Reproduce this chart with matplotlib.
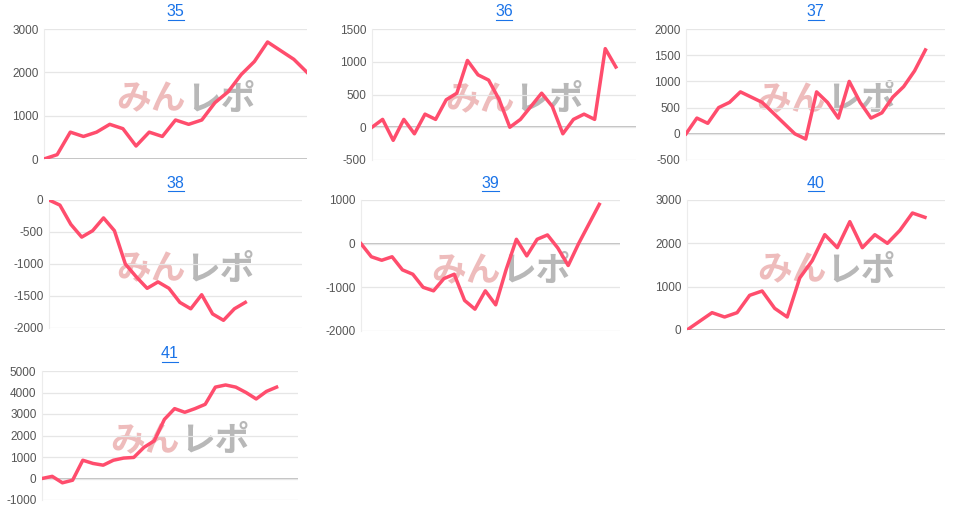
import matplotlib.pyplot as plt

plt.rcParams['font.family'] = ['Liberation Sans', 'Noto Sans CJK JP', 'DejaVu Sans']
plt.rcParams['axes.unicode_minus'] = False

LINE_COLOR = "#ff4d6d"

# ----- dados -----
titles = ["35", "36", "37", "38", "39", "40", "41"]

s35 = [0, 100, 620, 520, 620, 800, 700, 300, 620, 520, 900, 800, 900, 1300,
       1550, 1950, 2250, 2700, 2500, 2300, 2000]
s36 = [0, 120, -200, 120, -100, 200, 120, 420, 520, 1020, 800, 720, 420, 0,
       120, 320, 520, 320, -100, 120, 200, 120, 1200, 920]
s37 = [0, 300, 200, 500, 600, 800, 700, 600, 400, 200, 0, -100, 800, 600, 300,
       1000, 600, 300, 400, 700, 900, 1200, 1600]
s38 = [0, -80, -380, -580, -480, -280, -480, -1000, -1200, -1380, -1280, -1380,
       -1600, -1700, -1480, -1780, -1880, -1700, -1600]
s39 = [0, -300, -380, -300, -600, -700, -1000, -1080, -800, -700, -1300, -1500,
       -1080, -1400, -600, 100, -280, 100, 200, -100, -500, 0, 450, 900]
s40 = [0, 200, 400, 300, 400, 800, 900, 500, 300, 1200, 1600, 2200, 1900, 2500,
       1900, 2200, 2000, 2300, 2700, 2600]
s41 = [0, 100, -200, -80, 850, 700, 620, 850, 950, 980, 1450, 1750, 2750, 3250,
       3080, 3250, 3450, 4250, 4350, 4250, 4000, 3700, 4050, 4250]

series = [s35, s36, s37, s38, s39, s40, s41]
x_max = [20, 24.9, 23.8, 23.2, 25, 20.6, 25.1]
y_lims = [(0, 3000), (-500, 1500), (-500, 2000), (-2000, 0),
          (-2000, 1000), (0, 3000), (-1000, 5000)]
y_steps = [1000, 500, 500, 500, 1000, 1000, 1000]

# posição dos eixos em pixels: (esquerda, direita, topo, base)
boxes = [(44, 307, 29, 159), (372, 636, 29, 160), (686, 945, 29, 160),
         (49, 302, 200, 328), (361, 620, 200, 331), (687, 945, 200, 330),
         (42, 298, 371, 500)]

W, H = 960, 508
fig = plt.figure(figsize=(W / 100, H / 100), dpi=100)

for title, data, xm, (y0, y1), step, (l, r, t, b) in zip(
        titles, series, x_max, y_lims, y_steps, boxes):
    ax = fig.add_axes([l / W, 1 - b / H, (r - l) / W, (b - t) / H])
    ax.set_xlim(0, xm)
    ax.set_ylim(y0, y1)
    ax.set_yticks(range(y0, y1 + 1, step))
    ax.set_xticks([])
    ax.tick_params(axis="y", length=0, labelsize=8.5, labelcolor="#555555", pad=4)
    ax.grid(True, axis="y", color="#e6e6e6", linewidth=0.9)
    for side in ["top", "right", "bottom"]:
        ax.spines[side].set_visible(False)
    ax.spines["left"].set_color("#ececec")
    ax.axhline(0, color="#b0b0b0", linewidth=1.1, zorder=1)

    # marca d'água
    ax.text(0.54, 0.46, "みん", transform=ax.transAxes, ha="right", va="center",
            fontsize=25, fontweight="bold", color="#e8a0a0", alpha=0.7, zorder=0,
            family="Noto Sans CJK JP")
    ax.text(0.54, 0.46, "レポ", transform=ax.transAxes, ha="left", va="center",
            fontsize=25, fontweight="bold", color="#9a9a9a", alpha=0.7, zorder=0,
            family="Noto Sans CJK JP")

    ax.plot(range(len(data)), data, color=LINE_COLOR, linewidth=2.5, zorder=3,
            solid_joinstyle="round")

    fig.text((l + r) / 2 / W, 1 - (t - 17) / H, title, ha="center", va="center",
             fontsize=11.5, color="#1a73e8")
    fig.add_artist(plt.Line2D([((l + r) / 2 - 8) / W, ((l + r) / 2 + 8) / W],
                              [1 - (t - 9) / H] * 2, color="#1a73e8", linewidth=0.8))

fig.savefig("out.png", dpi=100)
